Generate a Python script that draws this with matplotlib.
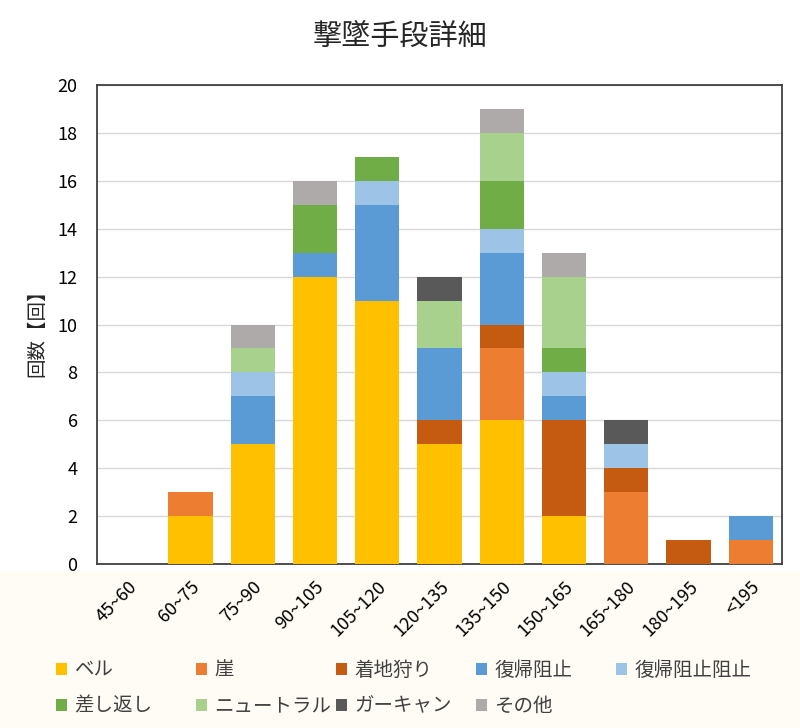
import matplotlib
matplotlib.use("Agg")
import matplotlib.pyplot as plt
from matplotlib.patches import Rectangle
import numpy as np

plt.rcParams['font.family'] = ['Noto Sans CJK JP', 'DejaVu Sans']

categories = ["45~60", "60~75", "75~90", "90~105", "105~120", "120~135",
              "135~150", "150~165", "165~180", "180~195", "<195"]

series_names = ["ベル", "崖", "着地狩り", "復帰阻止", "復帰阻止阻止",
                "差し返し", "ニュートラル", "ガーキャン", "その他"]

bell       = [0, 2, 5, 12, 11, 5, 6, 2, 0, 0, 0]
cliff      = [0, 1, 0, 0, 0, 0, 3, 0, 3, 0, 1]
landing    = [0, 0, 0, 0, 0, 1, 1, 4, 1, 1, 0]
edgeguard  = [0, 0, 2, 1, 4, 3, 3, 1, 0, 0, 1]
counter_eg = [0, 0, 1, 0, 1, 0, 1, 1, 1, 0, 0]
sashikaeshi = [0, 0, 0, 2, 1, 0, 2, 1, 0, 0, 0]
neutral    = [0, 0, 1, 0, 0, 2, 2, 3, 0, 0, 0]
oos        = [0, 0, 0, 0, 0, 1, 0, 0, 1, 0, 0]
other      = [0, 0, 1, 1, 0, 0, 1, 1, 0, 0, 0]

series_values = [bell, cliff, landing, edgeguard, counter_eg,
                 sashikaeshi, neutral, oos, other]
colors = ["#FFC000", "#ED7D31", "#C55A11", "#5B9BD5", "#9DC3E6",
          "#70AD47", "#A9D18E", "#595959", "#AEAAAA"]

fig = plt.figure(figsize=(8, 7.28), dpi=100)
fig.patch.set_facecolor("white")
# faint cream band at bottom (as in reference)
fig.patches.append(Rectangle((0, 0), 1, 1 - 571/728, transform=fig.transFigure,
                             facecolor="#FFFCF5", edgecolor="none", zorder=-10))

ax = fig.add_axes([97/800, 1 - 564/728, (782 - 97)/800, (564 - 85)/728])
ax.set_facecolor("white")

x = np.arange(len(categories))
bottom = np.zeros(len(categories))
handles = []
for name, vals, c in zip(series_names, series_values, colors):
    v = np.array(vals, dtype=float)
    b = ax.bar(x, v, bottom=bottom, width=0.71, color=c, label=name,
               zorder=3, linewidth=0)
    handles.append(b)
    bottom += v

ax.set_xlim(-0.5, len(categories) - 0.5)
ax.set_ylim(0, 20)
ax.set_yticks(range(0, 21, 2))
ax.yaxis.grid(True, color="#D9D9D9", linewidth=1, zorder=0)
ax.set_axisbelow(True)
ax.tick_params(axis='both', length=0, labelsize=13, colors="#000000")
ax.tick_params(axis='y', pad=14)
ax.set_xticks(x)
ax.set_xticklabels(categories, rotation=45, ha='right', rotation_mode='anchor')
ax.tick_params(axis='x', pad=10)
for s in ax.spines.values():
    s.set_color("#404040")
    s.set_linewidth(1.3)

fig.text(400/800, 1 - 38/728, "撃墜手段詳細", ha='center', va='center',
         fontsize=21, color="#262626")
fig.text(37/800, 1 - 328/728, "回数【回】", ha='center', va='center',
         rotation=90, fontsize=14, color="#262626")

# legend: 5 columns, equal spacing
col_x = [56, 196, 336, 476, 616]
cols = [[0, 5], [1, 6], [2, 7], [3, 8], [4]]
for cx, idxs in zip(col_x, cols):
    leg = fig.legend([handles[i] for i in idxs], [series_names[i] for i in idxs],
                     loc='upper left', bbox_to_anchor=(cx/800, 1 - 660/728),
                     frameon=False, fontsize=14, handlelength=0.55,
                     handleheight=0.55, handletextpad=0.4, labelspacing=0.75,
                     borderaxespad=0, borderpad=0)
    for t in leg.get_texts():
        t.set_color("#404040")

fig.savefig("out.png", dpi=100)
